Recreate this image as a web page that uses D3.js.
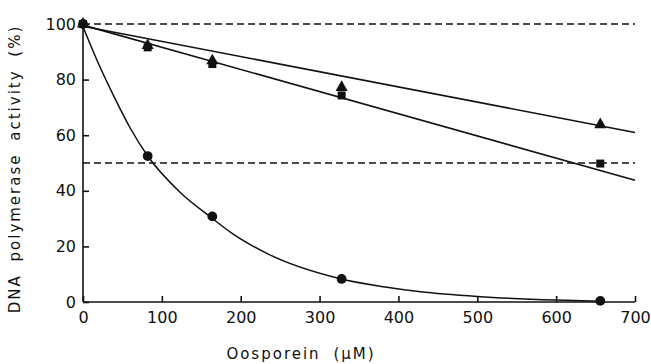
<!DOCTYPE html>
<html lang="en">
<head>
<meta charset="UTF-8">
<title>DNA polymerase activity vs Oosporein</title>
<script src="https://d3js.org/d3.v7.min.js"></script>
<style>
    * { margin: 0; padding: 0; box-sizing: border-box; }
    body { background: #ffffff; width: 651px; height: 364px; overflow: hidden; }
    .axis text { font-family: 'DejaVu Sans', sans-serif; font-size: 16px; fill: #111; }
    .axis path, .axis line { stroke: #111; stroke-width: 1.6; }
    .label { font-family: 'DejaVu Sans', sans-serif; font-size: 15px; fill: #111; letter-spacing: 2px; word-spacing: 6px; }
</style>
</head>
<body>
<div id="chart"></div>
<script>
    // concentrations (uM)
    const conc = [0, 82, 164, 328, 656];
    // % activity per series
    const circleVals = [100, 52.5, 30.8, 8.3, 0.4];
    const triangleVals = [100, 92.3, 86.8, 77.2, 63.8];
    const squareVals = [100, 91.6, 85.6, 74.3, 49.8];
    // fitted lines/curve: [x, y]
    const triangleFit = [[0, 99.2], [700, 61]];
    const squareFit = [[0, 99.6], [700, 43.8]];
    const circleFit = [[0, 99], [20, 85.5], [40, 73.5], [60, 62.5], [82, 52.5], [123, 39.5], [162, 30.5],
        [190, 24.5], [233, 17.5], [326, 8.4], [381, 5.5], [428, 3.7], [500, 2], [600, 0.7], [656, 0.3]];
    const refLevels = [100, 50];
    const xTicks = [0, 100, 200, 300, 400, 500, 600, 700];
    const yTicks = [0, 20, 40, 60, 80, 100];

    const W = 651, H = 364;
    const margin = { top: 24, right: 16, bottom: 62, left: 83 };
    const width = W - margin.left - margin.right;
    const height = H - margin.top - margin.bottom;

    const svg = d3.select("#chart").append("svg")
        .attr("width", W).attr("height", H);
    const g = svg.append("g")
        .attr("transform", `translate(${margin.left},${margin.top})`);

    const x = d3.scaleLinear().domain([0, 700]).range([0, width]);
    const y = d3.scaleLinear().domain([0, 100]).range([height, 0]);

    // dashed reference lines
    g.selectAll(".ref").data(refLevels).join("line")
        .attr("x1", x(0)).attr("x2", x(700))
        .attr("y1", d => y(d)).attr("y2", d => y(d))
        .attr("stroke", "#111").attr("stroke-width", 1.5)
        .attr("stroke-dasharray", "7,4");

    // axes (ticks point inward)
    g.append("g").attr("class", "axis")
        .attr("transform", `translate(0,${height})`)
        .call(d3.axisBottom(x).tickValues(xTicks).tickSizeInner(-6).tickSizeOuter(0).tickPadding(10))
        .call(a => a.select(".domain").attr("d", `M0,0H${width}`));
    g.append("g").attr("class", "axis")
        .call(d3.axisLeft(y).tickValues(yTicks).tickSizeInner(-6).tickSizeOuter(0).tickPadding(7))
        .call(a => a.select(".domain").attr("d", `M0,${height}V${y(100) - 2}`));

    // fitted lines
    const line = d3.line().x(d => x(d[0])).y(d => y(d[1]));
    [triangleFit, squareFit].forEach(f => {
        g.append("path").attr("d", line(f))
            .attr("fill", "none").attr("stroke", "#111").attr("stroke-width", 1.6);
    });
    const curve = d3.line().x(d => x(d[0])).y(d => y(d[1])).curve(d3.curveMonotoneX);
    g.append("path").attr("d", curve(circleFit))
        .attr("fill", "none").attr("stroke", "#111").attr("stroke-width", 1.5);

    // markers
    const sym = (type, size) => d3.symbol().type(type).size(size);
    const drawPts = (vals, type, size) => {
        g.selectAll(null).data(conc.map((c, i) => [c, vals[i]])).join("path")
            .attr("transform", d => `translate(${x(d[0])},${y(d[1])})`)
            .attr("d", sym(type, size)())
            .attr("fill", "#111");
    };
    drawPts(squareVals, d3.symbolSquare, 64);
    drawPts(triangleVals, d3.symbolTriangle, 64);
    drawPts(circleVals, d3.symbolCircle, 75);

    // axis titles
    svg.append("text").attr("class", "label")
        .attr("x", 301).attr("y", 359)
        .attr("text-anchor", "middle")
        .text("Oosporein (μM)");
    svg.append("text").attr("class", "label")
        .attr("transform", `translate(20,169) rotate(-90)`)
        .attr("text-anchor", "middle")
        .text("DNA polymerase activity (%)");
</script>
</body>
</html>
